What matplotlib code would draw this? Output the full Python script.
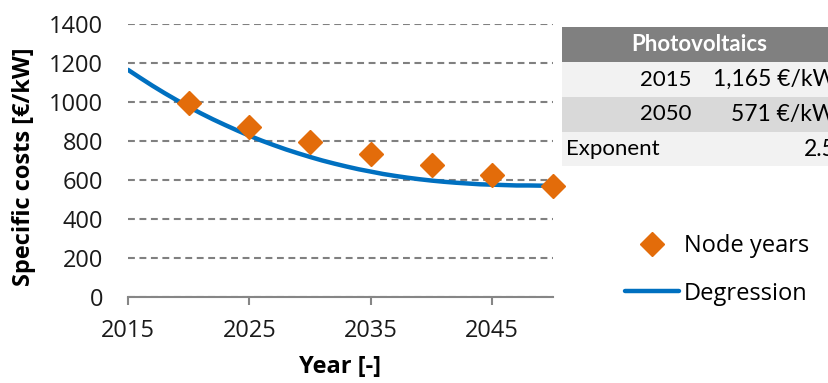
import matplotlib
matplotlib.use("Agg")
import matplotlib.pyplot as plt
from matplotlib.patches import Rectangle

# Node years (explicit cost estimates)
node_years = [2020, 2025, 2030, 2035, 2040, 2045, 2050]
node_costs = [995, 872, 795, 733, 677, 626, 571]

# Degression curve, sampled yearly
curve_years = list(range(2015, 2051))
curve_costs = [1165, 1124, 1084, 1046, 1010, 975, 942, 911, 882, 854,
               827, 802, 779, 757, 737, 718, 700, 684, 669, 655,
               643, 631, 621, 612, 604, 597, 591, 586, 582, 578,
               576, 574, 572, 572, 571, 571]

x_ticks = [2015, 2025, 2035, 2045]
y_ticks = [0, 200, 400, 600, 800, 1000, 1200, 1400]

# Parameter table
table_title = "Photovoltaics"
table_left = ["2015", "2050", "Exponent"]
table_right = ["1,165 €/kW", "571 €/kW", "2.5"]

W, H = 829, 383
fig = plt.figure(figsize=(W / 100, H / 100), dpi=100)
plt.rcParams['font.family'] = ['Open Sans', 'DejaVu Sans']

ax = fig.add_axes([128 / W, 1 - 297 / H, 425 / W, 273 / H])
ax.set_xlim(2015, 2050)
ax.set_ylim(0, 1400)

grey = '#868686'
ax.yaxis.grid(True, linestyle=(0, (3.3, 2.2)), color='#808080', lw=1.5)
ax.set_axisbelow(True)
for s in ('left', 'top', 'right'):
    ax.spines[s].set_visible(False)
ax.spines['bottom'].set_color(grey)
ax.spines['bottom'].set_linewidth(1.5)

ax.set_xticks(x_ticks)
ax.set_yticks(y_ticks)
ax.tick_params(axis='x', direction='out', length=6, width=1.5, color=grey,
               labelsize=17, pad=10, labelcolor='#1a1a1a')
ax.tick_params(axis='y', length=0, labelsize=17, pad=18, labelcolor='#1a1a1a')

line, = ax.plot(curve_years, curve_costs, color='#0070C0', lw=3.2,
                solid_capstyle='round', label='Degression', zorder=3)
pts, = ax.plot(node_years, node_costs, linestyle='none', marker='D',
               ms=12, color='#E36C0A', label='Node years', clip_on=False,
               zorder=4)

fig.text(24 / W, 1 - 167 / H, "Specific costs [€/kW]", rotation=90,
         ha='center', va='center', fontsize=17, fontweight='bold')
fig.text(340 / W, 1 - 367 / H, "Year [-]", ha='center', va='center',
         fontsize=17, fontweight='bold')

fig.legend(handles=[pts, line], loc='upper left',
           bbox_to_anchor=(625 / W, 1 - 234 / H), bbox_transform=fig.transFigure,
           frameon=False, fontsize=17, handlelength=2.3, handletextpad=0.2,
           borderpad=0, borderaxespad=0, labelspacing=1.0)

# Table drawn in figure pixel coordinates
row_tops = [27, 62, 97, 132]
row_bottoms = [62, 97, 132, 166]
row_colors = ['#808080', '#F2F2F2', '#D9D9D9', '#F2F2F2']
x0 = 562
for top, bot, c in zip(row_tops, row_bottoms, row_colors):
    fig.patches.append(Rectangle((x0 / W, 1 - bot / H), (W - x0) / W,
                                 (bot - top) / H, transform=fig.transFigure,
                                 facecolor=c, edgecolor='none'))

tfont = ['Lato', 'DejaVu Sans']
fig.text(699 / W, 1 - 44.5 / H, table_title, ha='center', va='center',
         fontsize=16, fontweight='bold', color='white', family=tfont)
for i, (lt, rt) in enumerate(zip(table_left, table_right)):
    yc = 1 - (row_tops[i + 1] + row_bottoms[i + 1]) / 2 / H
    if lt == "Exponent":
        fig.text(566 / W, yc, lt, ha='left', va='center', fontsize=16,
                 family=tfont)
    else:
        fig.text(692 / W, yc, lt, ha='right', va='center', fontsize=16,
                 family=tfont)
    fig.text(836 / W, yc, rt, ha='right', va='center', fontsize=16.5,
             family=tfont)

fig.savefig("out.png", dpi=100)
